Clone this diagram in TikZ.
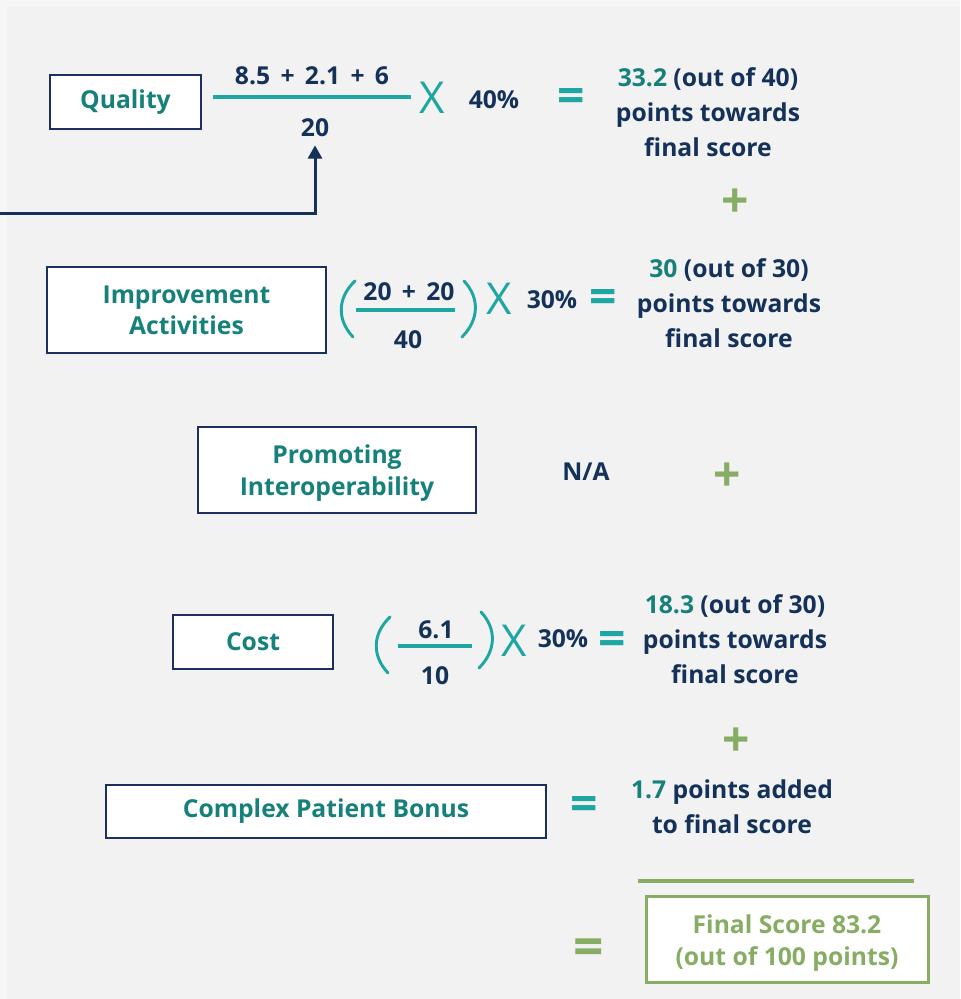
\documentclass[tikz,border=0pt]{standalone}
\usepackage{fontspec}
\setmainfont{Open Sans}
\usetikzlibrary{arrows.meta}
\definecolor{navy}{HTML}{143159}
\definecolor{boxnavy}{HTML}{1C2F5E}
\definecolor{tealtxt}{HTML}{16807A}
\definecolor{tealln}{HTML}{1EA6A2}
\definecolor{grn}{HTML}{86AD63}
\definecolor{bgouter}{HTML}{F6F6F6}
\definecolor{bgin}{HTML}{F2F2F2}
\newcommand{\pl}{\hspace{0.42em}+\hspace{0.42em}}
\begin{document}
\begin{tikzpicture}[x=0.75pt,y=-0.75pt,
  txt/.style={font=\bfseries\fontsize{18.5}{26.25}\selectfont, text=navy, inner sep=0pt, align=center},
  lbl/.style={txt, text=tealtxt},
  box/.style={draw=boxnavy, line width=1.5pt, fill=white, inner sep=0pt, lbl, font=\bfseries\fontsize{18.5}{23.5}\selectfont},
  fbox/.style={draw=grn, line width=2.25pt, fill=white, inner sep=0pt},
  ftxt/.style={txt, text=grn, font=\bfseries\fontsize{18.5}{24}\selectfont},
  timesx/.style={font=\fontsize{33}{33}\selectfont, text=tealln, inner sep=0pt},
  eqs/.style={font=\bfseries\fontsize{36}{36}\selectfont, text=tealln, inner sep=0pt},
  plus/.style={font=\bfseries\fontsize{36}{36}\selectfont, text=grn, inner sep=0pt},
  fracline/.style={draw=tealln, line width=3pt},
  paren/.style={draw=tealln, line width=2.2pt, line cap=round},
  arrowline/.style={draw=navy, line width=2.25pt, -{Triangle[width=10.5pt,length=10pt]}}
]
\useasboundingbox (0,0) rectangle (960,999);
\fill[bgouter] (0,0) rectangle (960,999);
\fill[bgin] (7,6) rectangle (960,999);

% ---------- Quality ----------
\node[box, minimum width=113.25pt, minimum height=40.5pt] (qbox) at (125.5,102) {Quality};
\node[txt] (qnum) at (312,76) {8.5\pl{}2.1\pl{}6};
\coordinate (ql1) at (213,97);
\coordinate (ql2) at (411,97);
\draw[fracline] (ql1) -- (ql2);
\node[txt] (qden) at (315,128) {20};
\node[timesx] (qx) at (432,98) {X};
\node[txt] (qpct) at (494,100) {40\%};
\node[eqs] (qeq) at (571,101) {=};
\node[txt] (qres) at (708,112) {\textcolor{tealtxt}{33.2} (out of 40)\\points towards\\final score};
\node[plus] (p1) at (735,203) {+};
\coordinate (arrstart) at (0,213);
\draw[arrowline, shorten >=6pt] (arrstart) -| (qden.south);

% ---------- Improvement Activities ----------
\node[box, minimum width=209.25pt, minimum height=64.5pt] (iabox) at (186.5,310) {Improvement\\Activities};
\coordinate (ial1) at (356,310);
\coordinate (ial2) at (455,310);
\draw[fracline] (ial1) -- (ial2);
\node[txt] (ianum) at (409,292) {20\pl{}20};
\node[txt] (iaden) at (408,340) {40};
\coordinate (ialp1) at (355,281);
\coordinate (ialp2) at (353,337);
\draw[paren] (ialp1) .. controls (337,298) and (337,320) .. (ialp2);
\coordinate (iarp1) at (464,281);
\coordinate (iarp2) at (462,337);
\draw[paren] (iarp1) .. controls (480,298) and (479,320) .. (iarp2);
\node[timesx] (iax) at (499,299) {X};
\node[txt] (iapct) at (552,300) {30\%};
\node[eqs] (iaeq) at (603,301) {=};
\node[txt] (iares) at (729,303) {\textcolor{tealtxt}{30} (out of 30)\\points towards\\final score};

% ---------- Promoting Interoperability ----------
\node[box, minimum width=208.5pt, minimum height=64.5pt] (pibox) at (337,470) {};
\node[lbl, font=\bfseries\fontsize{18.5}{23.5}\selectfont] (pitxt) at (337,473) {Promoting\\Interoperability};
\node[txt] (na) at (586,472) {N/A};
\node[plus] (p2) at (727,477) {+};

% ---------- Cost ----------
\node[box, minimum width=120pt, minimum height=40.5pt] (cbox) at (253,642) {Cost};
\coordinate (cl1) at (398,646);
\coordinate (cl2) at (472,646);
\draw[fracline] (cl1) -- (cl2);
\node[txt] (cnum) at (436,630) {6.1};
\node[txt] (cden) at (435,676) {10};
\coordinate (clp1) at (390,617);
\coordinate (clp2) at (388,673);
\draw[paren] (clp1) .. controls (372,634) and (372,656) .. (clp2);
\coordinate (crp1) at (481,612);
\coordinate (crp2) at (479,668);
\draw[paren] (crp1) .. controls (497,629) and (496,651) .. (crp2);
\node[timesx] (cx) at (514,641) {X};
\node[txt] (cpct) at (563,639) {30\%};
\node[eqs] (ceq) at (612,643) {=};
\node[txt] (cres) at (735,639) {\textcolor{tealtxt}{18.3} (out of 30)\\points towards\\final score};
\node[plus] (p3) at (736,742) {+};

% ---------- Complex Patient Bonus ----------
\node[box, minimum width=330pt, minimum height=39.75pt] (cpbox) at (326,811.5) {Complex Patient Bonus};
\node[eqs] (cpeq) at (584,808) {=};
\node[txt] (cpres) at (732,807) {\textcolor{tealtxt}{1.7} points added\\to final score};

% ---------- Final ----------
\coordinate (gl1) at (638,881);
\coordinate (gl2) at (914,881);
\draw[draw=grn, line width=3pt] (gl1) -- (gl2);
\node[eqs, text=grn, font=\bfseries\fontsize{40}{40}\selectfont] (feq) at (589,952) {=};
\node[fbox, minimum width=211.5pt, minimum height=64.5pt] (fbx) at (787,939) {};
\node[ftxt] (ftxt) at (787,943) {Final Score 83.2\\(out of 100 points)};
\end{tikzpicture}
\end{document}
